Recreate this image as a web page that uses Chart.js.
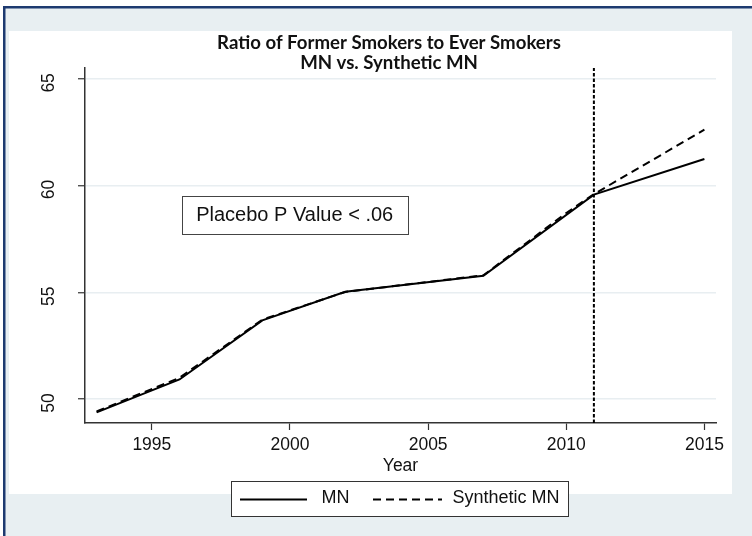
<!DOCTYPE html>
<html>
<head>
<meta charset="utf-8">
<script src="https://cdn.jsdelivr.net/npm/chart.js@4.4.0/dist/chart.umd.min.js"></script>
<style>
  html, body { margin: 0; padding: 0; background: #ffffff; }
  canvas { display: block; }
</style>
</head>
<body>
<canvas id="chart" width="752" height="536"></canvas>
<script>
// Former-to-ever smoker ratio, Minnesota vs. its synthetic control
const mnYears = [1993, 1996, 1999, 2002, 2007, 2011, 2015];
const mnValues = [49.38, 50.92, 53.69, 55.03, 55.78, 59.58, 61.25];
const synthYears = [1993, 1996, 1999, 2002, 2007, 2010, 2011, 2015];
const synthValues = [49.42, 51.0, 53.72, 55.02, 55.8, 58.72, 59.6, 62.62];
const treatmentYear = 2011;
const xTicks = [1995, 2000, 2005, 2010, 2015];
const yTicks = [50, 55, 60, 65];
const titleLines = ['Ratio of Former Smokers to Ever Smokers', 'MN vs. Synthetic MN'];
const noteText = 'Placebo P Value < .06';
const noteAt = [2000.17, 58.63];
const xLabel = 'Year';
const seriesNames = ['MN', 'Synthetic MN'];

const SANS = '"Liberation Sans", Arial, sans-serif';
const TITLE_FONT = 'Lato, "Open Sans", sans-serif';
const X_MIN = 1992.58, X_MAX = 2015.42;
const Y_MIN = 48.88, Y_MAX = 65.51;

const toPoints = (xs, ys) => xs.map((x, i) => ({ x: x, y: ys[i] }));

// page frame, light panel and white plot region
const backdrop = {
  id: 'backdrop',
  beforeDraw(chart) {
    const c = chart.ctx;
    c.save();
    c.fillStyle = '#ffffff';
    c.fillRect(0, 0, chart.width, chart.height);
    c.fillStyle = '#e8eff2';
    c.fillRect(4, 6, chart.width - 4, chart.height - 6);
    c.fillStyle = '#ffffff';
    c.fillRect(9, 31, 723, 463);
    c.fillStyle = '#1d3a70';
    c.fillRect(3, 6, 2.5, chart.height - 6);
    c.fillRect(3, 6, chart.width - 3, 2.5);
    c.restore();
  }
};

// two-line bold heading
const heading = {
  id: 'heading',
  afterDraw(chart) {
    const c = chart.ctx;
    c.save();
    c.font = 'bold 100px ' + TITLE_FONT;
    const size = 100 * 344 / c.measureText(titleLines[0]).width;
    c.font = 'bold ' + size.toFixed(2) + 'px ' + TITLE_FONT;
    c.fillStyle = '#111111';
    c.textAlign = 'center';
    c.textBaseline = 'alphabetic';
    c.fillText(titleLines[0], 389, 48.5);
    c.fillText(titleLines[1], 389, 69);
    c.restore();
  }
};

// boxed note inside the plot
const note = {
  id: 'note',
  afterDatasetsDraw(chart) {
    const c = chart.ctx;
    const cx = chart.scales.x.getPixelForValue(noteAt[0]);
    const cy = chart.scales.y.getPixelForValue(noteAt[1]);
    c.save();
    c.fillStyle = '#ffffff';
    c.fillRect(cx - 113, cy - 19.25, 226, 38.5);
    c.strokeStyle = '#444444';
    c.lineWidth = 1;
    c.strokeRect(Math.round(cx - 113) + 0.5, Math.round(cy - 19.25) + 0.5, 226, 38);
    c.fillStyle = '#111111';
    c.font = '20px ' + SANS;
    c.textAlign = 'center';
    c.textBaseline = 'middle';
    c.fillText(noteText, cx, cy + 1);
    c.restore();
  }
};

// legend box below the plot
const legendBox = {
  id: 'legendBox',
  afterDraw(chart) {
    const c = chart.ctx;
    const ds = chart.data.datasets;
    c.save();
    c.fillStyle = '#ffffff';
    c.fillRect(231.5, 481.5, 337, 35);
    c.strokeStyle = '#333333';
    c.lineWidth = 1;
    c.strokeRect(231.5, 481.5, 337, 35);
    const items = [
      { ds: ds[0], x0: 240, x1: 307, tx: 321.5 },
      { ds: ds[1], x0: 373, x1: 442, tx: 452.5 }
    ];
    c.font = '18px ' + SANS;
    c.textBaseline = 'middle';
    c.textAlign = 'left';
    items.forEach(it => {
      c.strokeStyle = it.ds.borderColor;
      c.lineWidth = it.ds.borderWidth;
      c.setLineDash(it.ds.borderDash || []);
      c.beginPath();
      c.moveTo(it.x0, 499.5);
      c.lineTo(it.x1, 499.5);
      c.stroke();
      c.setLineDash([]);
      c.fillStyle = '#111111';
      c.fillText(it.ds.label, it.tx, 498.5);
    });
    c.restore();
  }
};

new Chart(document.getElementById('chart'), {
  type: 'line',
  data: {
    datasets: [
      {
        label: seriesNames[0],
        data: toPoints(mnYears, mnValues),
        borderColor: '#000000',
        borderWidth: 2,
        pointRadius: 0,
        tension: 0,
        fill: false
      },
      {
        label: seriesNames[1],
        data: toPoints(synthYears, synthValues),
        borderColor: '#000000',
        borderWidth: 2,
        borderDash: [8, 5],
        pointRadius: 0,
        tension: 0,
        fill: false
      },
      {
        label: 'treatment',
        data: [{ x: treatmentYear, y: Y_MIN }, { x: treatmentYear, y: Y_MAX }],
        borderColor: '#000000',
        borderWidth: 2,
        borderDash: [3.5, 2],
        pointRadius: 0,
        fill: false
      }
    ]
  },
  options: {
    responsive: false,
    animation: false,
    devicePixelRatio: 1,
    layout: { padding: { left: 0, right: 36, top: 68, bottom: 58 } },
    plugins: {
      legend: { display: false },
      title: { display: false },
      tooltip: { enabled: false }
    },
    scales: {
      x: {
        type: 'linear',
        min: X_MIN,
        max: X_MAX,
        afterBuildTicks: s => { s.ticks = xTicks.map(v => ({ value: v })); },
        afterFit: s => { s.height = 55; },
        grid: { drawOnChartArea: false, tickLength: 7, tickColor: '#333333', tickWidth: 1.2 },
        border: { color: '#333333', width: 1.5 },
        ticks: {
          font: { family: SANS, size: 17.5 },
          color: '#111111',
          padding: 5,
          maxRotation: 0,
          callback: v => String(v)
        },
        title: {
          display: true,
          text: xLabel,
          font: { family: SANS, size: 17.5 },
          color: '#111111',
          padding: { top: 0, bottom: 1 }
        }
      },
      y: {
        type: 'linear',
        min: Y_MIN,
        max: Y_MAX,
        afterBuildTicks: s => { s.ticks = yTicks.map(v => ({ value: v })); },
        afterFit: s => { s.width = 85; },
        grid: { color: '#e8eef1', lineWidth: 1.5, tickLength: 7, tickColor: '#333333', tickWidth: 1.2 },
        border: { color: '#333333', width: 1.5 },
        ticks: {
          font: { family: SANS, size: 17.5 },
          color: '#111111',
          minRotation: 90,
          maxRotation: 90,
          crossAlign: 'center',
          padding: 19,
          labelOffset: 4,
          callback: v => String(v)
        }
      }
    }
  },
  plugins: [backdrop, note, heading, legendBox]
});
</script>
</body>
</html>
